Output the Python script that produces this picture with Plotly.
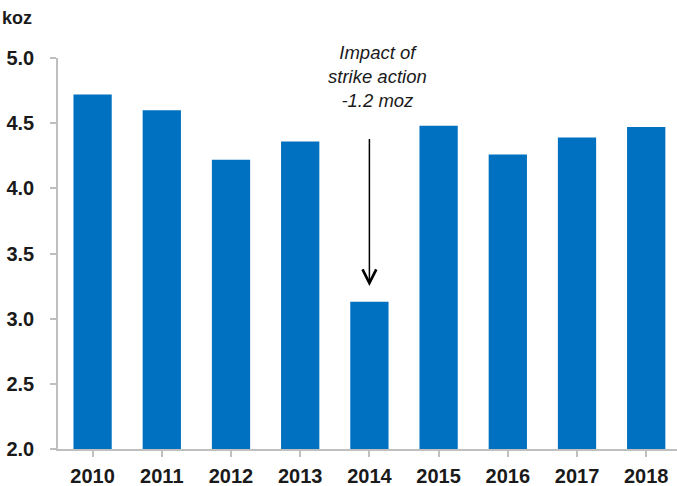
import plotly.graph_objects as go

years = ["2010", "2011", "2012", "2013", "2014", "2015", "2016", "2017", "2018"]
production = [4.72, 4.60, 4.22, 4.36, 3.13, 4.48, 4.26, 4.39, 4.47]
y_ticks = [2.0, 2.5, 3.0, 3.5, 4.0, 4.5, 5.0]
y_tick_labels = ["2.0", "2.5", "3.0", "3.5", "4.0", "4.5", "5.0"]
unit_label = "koz"
note_text = "Impact of<br>strike action<br>-1.2 moz"
arrow_from = 4.39
arrow_to = 3.25

BLUE = "#0070C0"
AXIS = "#BFBFBF"
FONT = "Liberation Sans, Arial, sans-serif"

fig = go.Figure(
    go.Bar(
        x=list(range(len(years))),
        y=production,
        marker=dict(color=BLUE, line=dict(width=0)),
        width=0.553,
    )
)

fig.update_layout(
    width=677,
    height=486,
    margin=dict(l=58, r=0, t=58, b=37),
    paper_bgcolor="white",
    plot_bgcolor="white",
    showlegend=False,
    font=dict(family=FONT, color="#1a1a1a"),
)

fig.update_xaxes(
    range=[-0.5, 8.445],
    tickmode="array",
    tickvals=list(range(len(years))),
    ticktext=years,
    tickson="boundaries",
    ticks="outside",
    ticklen=6,
    tickwidth=1.5,
    tickcolor=AXIS,
    showline=True,
    linecolor=AXIS,
    linewidth=1.5,
    showgrid=False,
    zeroline=False,
    tickfont=dict(family=FONT, size=20, color="#1a1a1a", weight="bold"),
    ticklabelstandoff=2,
)

fig.update_yaxes(
    range=[2.0, 5.0],
    tickmode="array",
    tickvals=y_ticks,
    ticktext=y_tick_labels,
    ticks="outside",
    ticklen=6,
    tickwidth=1.5,
    tickcolor=AXIS,
    showline=True,
    linecolor=AXIS,
    linewidth=1.5,
    showgrid=False,
    zeroline=False,
    tickfont=dict(family=FONT, size=20, color="#1a1a1a", weight="bold"),
    ticklabelstandoff=12,
)

fig.add_annotation(
    xref="paper", yref="paper",
    x=-58 / 619, y=1 + 28 / 391,
    xanchor="left", yanchor="bottom",
    text=unit_label, showarrow=False,
    font=dict(family=FONT, size=18, color="#1a1a1a", weight="bold"),
)

fig.add_annotation(
    x=4.11, y=4.86, xref="x", yref="y",
    text=note_text, showarrow=False, align="center",
    xanchor="center", yanchor="middle",
    font=dict(family=FONT, size=18.5, color="#1a1a1a", style="italic"),
)

fig.add_annotation(
    x=4, y=arrow_to, ax=4, ay=arrow_from,
    xref="x", yref="y", axref="x", ayref="y",
    text="", showarrow=True,
    arrowhead=5, arrowsize=1.8, arrowwidth=1.5, arrowcolor="#000000",
    standoff=0, startstandoff=0,
)

fig.write_html("out.html")
